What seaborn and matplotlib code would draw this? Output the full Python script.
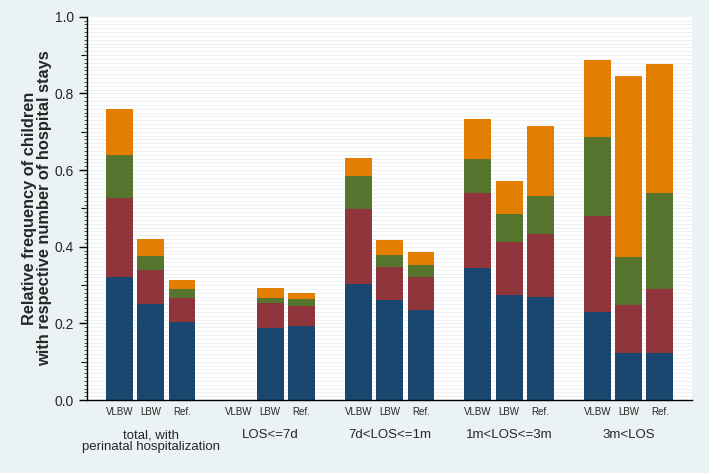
import numpy as np
import pandas as pd
import matplotlib
matplotlib.use("Agg")
import matplotlib.pyplot as plt
from matplotlib.ticker import MultipleLocator
import seaborn as sns

# data
groups = ["total, with\nperinatal hospitalization", "LOS<=7d", "7d<LOS<=1m",
          "1m<LOS<=3m", "3m<LOS"]
weights = ["VLBW", "LBW", "Ref."]

# segment heights, order: group 1 (VLBW, LBW, Ref.), group 2 ..., group 5
stays_1 = [0.320, 0.250, 0.203, np.nan, 0.189, 0.193, 0.303, 0.260, 0.234,
           0.345, 0.274, 0.268, 0.230, 0.123, 0.123]
stays_2 = [0.206, 0.089, 0.064, np.nan, 0.063, 0.053, 0.195, 0.086, 0.087,
           0.196, 0.138, 0.165, 0.251, 0.125, 0.167]
stays_3 = [0.113, 0.036, 0.022, np.nan, 0.013, 0.017, 0.087, 0.032, 0.031,
           0.089, 0.073, 0.100, 0.205, 0.126, 0.250]
stays_4 = [0.119, 0.046, 0.023, np.nan, 0.026, 0.016, 0.046, 0.039, 0.033,
           0.103, 0.087, 0.181, 0.201, 0.471, 0.336]

layer_colors = ["#1a476f", "#90353b", "#55752f", "#e37e00"]
bg = "#eaf2f3"

df = pd.DataFrame({
    "group": np.repeat(groups, len(weights)),
    "weight": weights * len(groups),
    "s1": stays_1, "s2": stays_2, "s3": stays_3, "s4": stays_4,
})
cum = df[["s1", "s2", "s3", "s4"]].cumsum(axis=1)

sns.set_style("white")
plt.rcParams["font.family"] = ["Liberation Sans", "DejaVu Sans"]

fig = plt.figure(figsize=(7.09, 4.73), dpi=100, facecolor=bg)
ax = fig.add_axes([0.1227, 0.1543, 0.8533, 0.8104])
ax.set_facecolor("white")

# light horizontal lines every 0.01
for yy in np.arange(0.01, 1.0, 0.01):
    ax.axhline(yy, color="#eef1f3", lw=0.7, zorder=0)

# stacked bars: draw cumulative totals from top layer down
bar_w = 0.786
for k in [3, 2, 1, 0]:
    sub = pd.DataFrame({"group": df["group"], "weight": df["weight"],
                        "val": cum.iloc[:, k]})
    sns.barplot(data=sub, x="group", y="val", hue="weight", order=groups,
                hue_order=weights, palette={w: layer_colors[k] for w in weights},
                width=bar_w, gap=0.14, errorbar=None, legend=False,
                linewidth=0, saturation=1, ax=ax, zorder=2)

ax.set_xlim(-0.533, 4.53)
ax.set_ylim(0, 1.0)

# x axis: group labels (major) and bar labels (minor)
step = bar_w / len(weights)
minor_pos = [i + (j - 1) * step for i in range(len(groups)) for j in range(len(weights))]
ax.xaxis.remove_overlapping_locs = False
ax.set_xticks(range(len(groups)))
ax.set_xticklabels(groups, fontsize=9.5, linespacing=1.0)
ax.set_xticks(minor_pos, minor=True)
ax.set_xticklabels(weights * len(groups), minor=True, fontsize=7)
ax.tick_params(axis="x", which="major", length=0, pad=21)
ax.tick_params(axis="x", which="minor", length=0, pad=5)

# y axis
ax.yaxis.set_major_locator(MultipleLocator(0.2))
ax.yaxis.set_minor_locator(MultipleLocator(0.01))
ax.yaxis.set_major_formatter(matplotlib.ticker.FormatStrFormatter("%.1f"))
ax.tick_params(axis="y", which="major", length=6, width=1, labelsize=10,
               left=True, color="black")
ax.tick_params(axis="y", which="minor", length=2.5, width=0.6, left=True,
               color="#333333")
sec = ax.secondary_yaxis("left")
sec.set_yticks(np.arange(0.1, 1.0, 0.2))
sec.tick_params(length=4, width=0.8, labelleft=False, color="black")
sec.spines["left"].set_visible(False)

ax.set_xlabel("")
ax.set_ylabel("Relative frequency of children\nwith respective number of hospital stays",
              fontsize=11.8, fontweight="bold", labelpad=1.5, linespacing=1.0)

for s in ["top", "right"]:
    ax.spines[s].set_visible(False)
for s in ["left", "bottom"]:
    ax.spines[s].set_color("black")
    ax.spines[s].set_linewidth(1)

fig.savefig("out.png", dpi=100, facecolor=bg)
